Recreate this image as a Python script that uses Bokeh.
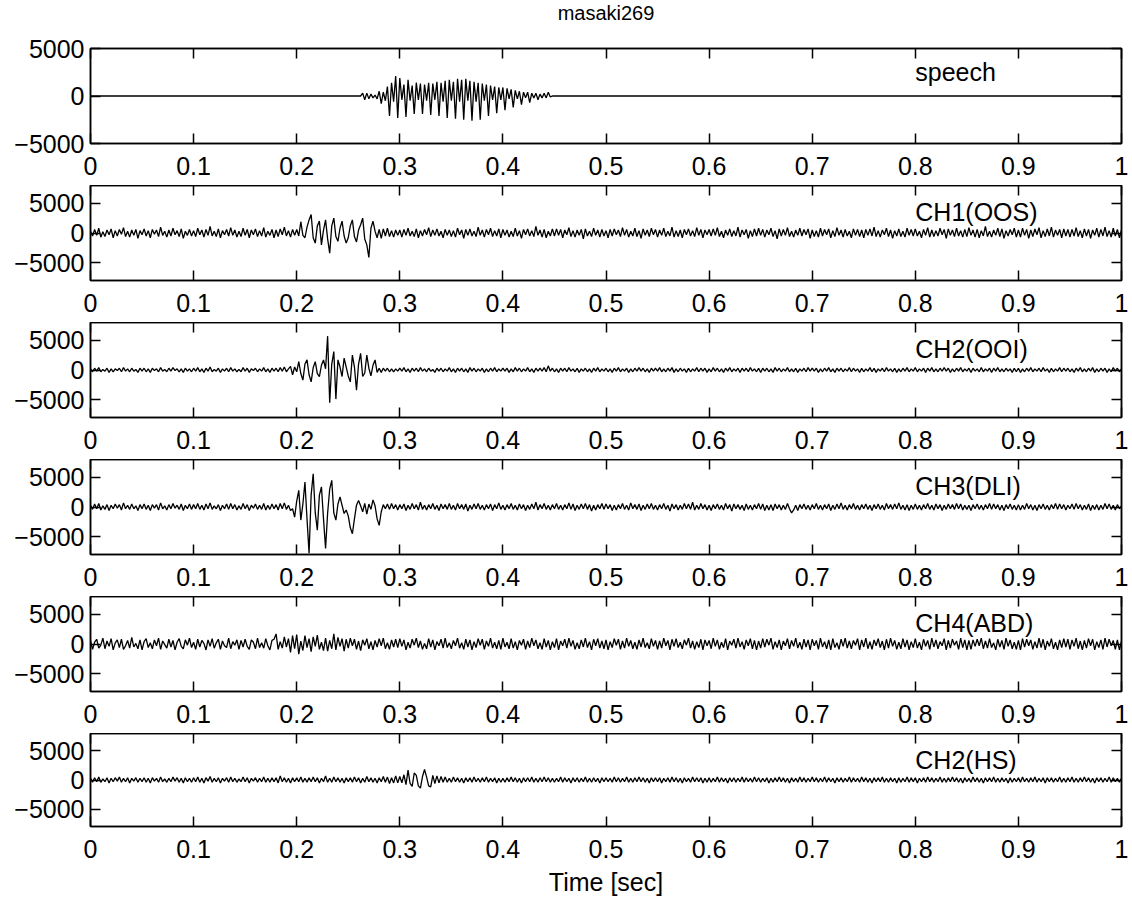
import numpy as np
from bokeh.plotting import figure
from bokeh.layouts import column
from bokeh.models import FixedTicker, LinearAxis, Range1d, Label
from bokeh.embed import file_html
from bokeh.resources import INLINE

TITLE = "masaki269"
X_LABEL = "Time [sec]"
DT = 0.002      # spacing (s) of the values
UNIT = 100      # traced values are written in hundreds

x_ticks = [0, 0.1, 0.2, 0.3, 0.4, 0.5, 0.6, 0.7, 0.8, 0.9, 1]
x_tick_labels = ["0", "0.1", "0.2", "0.3", "0.4", "0.5", "0.6", "0.7", "0.8", "0.9", "1"]
y_ticks = [-5000, 0, 5000]
y_tick_labels = ["\u22125000", "0", "5000"]

channel_names = ["speech", "CH1(OOS)", "CH2(OOI)", "CH3(DLI)", "CH4(ABD)", "CH2(HS)"]
speech_limits = [-5000, 5000]
emg_limits = [-8000, 8000]

speech = [0] * 131 + [
    0, 3, -4, 3, -3, 2, -2, 1, -3, 5, -8, 4, -5, 10, -21, 14, -6, 21, -23, 19,
    -4, 12, -22, 17, -5, 11, -19, 14, -4, 13, -19, 12, -5, 14, -20, 13, -4, 15, -21, 14,
    -6, 16, -23, 17, -5, 15, -24, 18, -6, 17, -25, 18, -5, 16, -26, 15, -6, 14, -25, 13,
    -5, 12, -21, 11, -4, 10, -18, 9, -4, 9, -15, 8, -3, 7, -12, 6, -3, 5, -9, 4,
    -2, 4, -7, 3, -2, 3, -4, 2, -2, 3, -2, 4, -1, 0,
] + [0] * 276

ch1_oos = [
    3, -5, 6, -4, 8, -7, 2, -6, 5, -3, 7, -8, 4, -5, 6, -2, 9, -6, 3, -7, 5, -4, 6, -9, 4,
    -3, 7, -5, 4, -8, 6, -2, 5, -6, 10, -4, 3, -7, 5, -5, 8, -3, 4, -6, 7, -9, 3, -4, 6, -5,
    4, -6, 8, -3, 5, -7, 6, -4, 11, -5, 3, -6, 7, -8, 4, -3, 6, -5, 9, -4, 5, -7, 3, -6, 8,
    -4, 6, -8, 5, -3, 7, -6, 4, -5, 9, -7, 3, -4, 6, -8, 5, -6, 7, -3, 10, -5, 4, -7, 6, -4,
    6, -5, 19, -4, -8, 10, 22, 31, -8, -17, 12, 20, -20, 5, 22, -10, -34, 12, 25, -6, -14, 8, 20, -5, -17,
    -8, 12, 22, -6, -15, 5, 14, 25, -10, -20, -41, 8, 20, 3, -8, 6, -9, 7, -5, 8, -6, 4, -7, 5, -4,
    5, -7, 6, -4, 8, -5, 3, -6, 7, -8, 4, -5, 6, -3, 9, -6, 5, -4, 7, -5, 3, -8, 6, -4, 5,
    -6, 4, -7, 8, -3, 5, -9, 6, -4, 7, -5, 3, -6, 10, -4, 5, -7, 6, -3, 8, -6, 4, -5, 7, -8,
    6, -4, 5, -7, 3, -6, 8, -5, 4, -9, 6, -3, 7, -5, 4, -6, 11, -4, 5, -7, 6, -8, 3, -5, 7,
    -5, 7, -4, 6, -8, 5, -3, 9, -6, 4, -7, 5, -4, 6, -10, 7, -5, 3, -6, 8, -4, 5, -7, 6, -5,
    4, -8, 6, -5, 7, -3, 5, -6, 9, -4, 6, -7, 3, -5, 8, -6, 4, -9, 7, -4, 5, -6, 8, -3, 6,
    -7, 5, -4, 8, -6, 3, -5, 10, -7, 4, -6, 5, -8, 6, -3, 7, -5, 4, -6, 9, -4, 6, -8, 5, -3,
    6, -5, 7, -4, 9, -6, 3, -8, 5, -4, 7, -6, 4, -5, 10, -7, 5, -3, 6, -9, 4, -6, 7, -5, 8,
    -4, 6, -7, 5, -3, 8, -6, 4, -10, 7, -5, 6, -4, 9, -6, 3, -7, 5, -4, 8, -5, 6, -3, 7, -9,
    5, -6, 4, -7, 8, -5, 6, -3, 7, -8, 4, -6, 9, -4, 5, -7, 6, -5, 3, -8, 7, -4, 6, -6, 5,
    -8, 6, -4, 7, -5, 10, -6, 4, -7, 5, -3, 8, -6, 5, -9, 4, -5, 7, -6, 3, -7, 8, -4, 6, -5,
    7, -5, 3, -8, 6, -4, 9, -7, 5, -6, 4, -5, 8, -3, 6, -9, 7, -4, 5, -6, 8, -5, 4, -7, 6,
    -6, 9, -4, 5, -7, 6, -8, 4, -5, 11, -6, 3, -7, 5, -4, 8, -6, 7, -9, 4, -5, 6, -3, 8, -7,
    5, -7, 8, -4, 6, -9, 5, -6, 7, -3, 9, -8, 4, -6, 7, -5, 10, -7, 5, -4, 6, -8, 7, -5, 6,
    -7, 6, -5, 9, -6, 4, -8, 7, -5, 6, -9, 5, -4, 8, -7, 6, -5, 10, -6, 4, -7, 8, -5, 6, -8,
    5,
]

ch2_ooi = [
    2, -3, 3, -2, 4, -3, 1, -2, 3, -4, 2, -3, 2, -1, 3, -3, 4, -2, 2, -3, 3, -2, 1, -4, 3,
    -2, 3, -3, 2, -4, 3, -1, 2, -3, 4, -2, 1, -3, 3, -2, 4, -1, 2, -3, 2, -4, 3, -2, 2, -3,
    3, -2, 4, -3, 2, -4, 3, -2, 5, -3, 1, -2, 3, -4, 2, -2, 3, -3, 4, -2, 2, -3, 1, -3, 4,
    -2, 3, -4, 2, -1, 3, -3, 2, -2, 4, -3, 2, -4, 3, -2, 3, -3, 4, -2, 5, -3, 2, 6, -8, 5,
    -3, 14, -6, -17, 10, 17, -8, -20, 4, 14, -6, -11, 8, 17, 2, 57, -55, 10, 31, -49, 17, 5, -11, 20, 5,
    -10, -20, 25, 5, -34, 10, 28, -11, -5, 25, 3, -10, 8, 17, -4, 3, -4, 3, -2, 3, -3, 2, -3, 2, -2,
    3, -2, 4, -3, 2, -4, 3, -2, 3, -3, 4, -2, 2, -3, 3, -2, 1, -4, 3, -2, 3, -3, 2, -2, 4,
    -3, 2, -4, 3, -2, 3, -3, 2, -4, 4, -2, 3, -3, 2, -2, 3, -4, 2, -3, 3, -2, 4, -3, 2, -2,
    3, -2, 3, -4, 2, -3, 4, -2, 3, -3, 2, -2, 4, -3, 2, -4, 3, -2, 3, -2, 4, -3, 7, -2, 3,
    -3, 2, -4, 3, -2, 3, -3, 4, -2, 2, -3, 3, -4, 2, -2, 3, -3, 2, -4, 3, -2, 4, -3, 2, -2,
    3, -3, 2, -4, 3, -2, 4, -3, 2, -2, 3, -4, 2, -3, 3, -2, 4, -2, 3, -3, 2, -4, 3, -2, 3,
    -2, 4, -3, 2, -3, 3, -2, 4, -4, 2, -3, 3, -2, 2, -4, 3, -3, 2, -2, 4, -3, 3, -2, 3, -4,
    2, -3, 4, -2, 3, -3, 2, -4, 3, -2, 4, -3, 2, -2, 3, -4, 3, -2, 3, -3, 4, -2, 2, -3, 3,
    -4, 3, -2, 3, -3, 2, -4, 4, -2, 3, -3, 2, -2, 4, -3, 2, -3, 3, -4, 2, -2, 3, -3, 4, -2,
    3, -2, 3, -4, 2, -3, 3, -2, 4, -3, 2, -4, 3, -2, 3, -3, 2, -2, 4, -3, 3, -2, 2, -4, 3,
    -3, 2, -2, 4, -3, 3, -4, 2, -2, 3, -3, 4, -2, 2, -3, 3, -4, 2, -3, 3, -2, 4, -3, 2, -2,
    4, -3, 2, -2, 3, -4, 3, -2, 4, -3, 2, -3, 3, -2, 4, -2, 3, -4, 2, -3, 3, -2, 4, -3, 2,
    -2, 3, -4, 3, -2, 2, -3, 4, -3, 2, -2, 3, -4, 3, -2, 4, -3, 2, -3, 3, -2, 2, -4, 3, -3,
    3, -4, 2, -3, 3, -2, 4, -3, 2, -2, 3, -3, 4, -2, 2, -4, 3, -3, 2, -2, 4, -3, 3, -2, 3,
    -3, 2, -4, 3, -2, 4, -3, 2, -3, 3, -2, 4, -4, 2, -3, 3, -2, 3, -4, 2, -3, 4, -2, 3, -3,
    2,
]

ch3_dli = [
    3, -4, 5, -3, 6, -5, 2, -4, 4, -6, 3, -3, 5, -2, 4, -5, 7, -3, 3, -4, 5, -3, 2, -6, 4,
    -3, 5, -4, 3, -6, 4, -2, 4, -5, 7, -3, 2, -5, 4, -3, 6, -2, 3, -4, 5, -6, 3, -3, 5, -4,
    4, -3, 6, -4, 3, -5, 5, -3, 7, -4, 2, -3, 4, -6, 3, -3, 5, -4, 6, -3, 4, -5, 2, -4, 6,
    -3, 4, -6, 3, -2, 5, -4, 3, -4, 6, -5, 3, -4, 5, -3, 4, -5, 6, -3, 7, -4, 3, -6, -3, -17,
    10, 28, -22, 5, 42, -20, -78, 20, 56, -10, -39, 20, 34, -20, -70, -10, 30, 45, -10, -22, 5, 17, 3, -11, -5,
    -15, -35, -45, -20, 3, 11, 2, -8, 6, -12, 5, -4, 12, 2, -20, -31, -8, 4, -3, 5, -4, 6, -3, 4, -5,
    4, -3, 5, -6, 3, -4, 6, -3, 4, -5, 8, -4, 3, -5, 4, -3, 6, -4, 3, -6, 5, -3, 4, -4, 6,
    -4, 3, -5, 6, -3, 4, -4, 5, -7, 3, -4, 5, -3, 6, -4, 3, -5, 4, -3, 5, -6, 4, -3, 7, -4,
    3, -5, 4, -3, 6, -4, 3, -5, 5, -3, 4, -6, 3, -4, 5, -3, 8, -5, 4, -3, 6, -4, 3, -5, 4,
    -3, 6, -4, 3, -5, 4, -3, 7, -4, 5, -6, 3, -4, 5, -3, 6, -4, 4, -7, 3, -5, 4, -3, 6, -4,
    5, -3, 4, -6, 3, -5, 4, -3, 6, -4, 3, -5, 7, -3, 4, -4, 5, -6, 3, -4, 5, -3, 6, -4, 3,
    -5, 4, -3, 6, -4, 3, -7, 5, -3, 4, -5, 3, -4, 6, -3, 5, -4, 8, -5, 3, -4, 6, -3, 4, -5,
    3, -6, 4, -3, 5, -4, 3, -5, 6, -3, 4, -7, 5, -3, 4, -4, 3, -6, 5, -4, 3, -5, 4, -3, 6,
    -4, 5, -6, 3, -5, 4, -6, 5, -3, 4, -5, 3, -4, 6, -3, -10, -5, 3, -6, 4, -3, 5, -4, 3, -5,
    4, -3, 6, -4, 3, -5, 4, -3, 5, -6, 3, -4, 5, -3, 7, -4, 3, -5, 4, -3, 6, -4, 3, -5, 4,
    -3, 5, -4, 3, -6, 4, -3, 5, -4, 3, -5, 6, -3, 4, -4, 5, -3, 7, -4, 3, -5, 4, -6, 3, -4,
    5, -4, 3, -5, 4, -3, 6, -4, 3, -5, 5, -3, 4, -6, 3, -4, 5, -3, 4, -4, 6, -3, 5, -5, 3,
    -4, 3, -6, 4, -3, 5, -4, 3, -5, 4, -3, 6, -4, 5, -3, 4, -5, 3, -6, 4, -3, 5, -4, 3, -5,
    4, -5, 3, -4, 6, -3, 4, -5, 3, -6, 4, -3, 5, -4, 3, -5, 4, -3, 6, -4, 5, -3, 4, -5, 3,
    -3, 5, -4, 6, -3, 4, -5, 3, -4, 5, -6, 3, -4, 4, -5, 3, -4, 6, -3, 5, -4, 3, -5, 4, -3,
    2,
]

ch4_abd = [
    6, -9, 3, 8, -7, -2, 10, -8, 5, -4, 9, -10, 2, 7, -6, 8, -9, -3, 6, -7, 11, -5, 1, -8, 7,
    -10, 4, 9, -6, 2, -8, 7, -3, 10, -9, 5, -1, -7, 8, -5, 6, -10, 3, 9, -4, -8, 7, -2, 10, -6,
    3, -9, 8, -5, 6, 1, -10, 7, -4, 9, -7, 2, 8, -9, 5, -3, -6, 10, -8, 4, -2, 7, -9, 6, -5,
    8, -4, -9, 7, 3, -8, 10, -6, 2, -7, 9, -3, -10, 6, 8, 17, -9, 4, -7, 12, -5, 9, -14, 14, -8,
    16, -17, 5, -11, 14, -6, 9, -13, 12, -4, 15, -9, 3, -11, 10, -12, 6, -8, 17, -10, 11, -4, 9, -12, 8,
    -7, 10, -3, 8, -9, 5, -11, 7, -2, 9, -8, 4, -10, 6, -5, 9, -3, 10, -8, 2, -9, 7, -5, 8, -6,
    9, -4, 7, -10, 3, -7, 8, -2, 10, -6, 5, -9, 1, -8, 9, -5, 7, -10, 4, -3, 8, -7, 10, -6, 2,
    -8, 6, -3, 10, -7, 2, -9, 8, -5, 7, -10, 4, -6, 9, -2, 8, -9, 5, -4, 10, -7, 3, -8, 6, -9,
    10, -5, 3, -8, 9, -7, 4, -10, 6, -2, 8, -9, 5, -6, 10, -3, 7, -8, 2, -9, 9, -5, 6, -10, 4,
    -6, 9, -10, 5, -3, 8, -7, 10, -4, 6, -9, 2, -8, 7, -5, 10, -6, 4, -10, 8, -3, 9, -7, 5, -8,
    7, -10, 4, -6, 9, -2, 8, -9, 5, -7, 10, -4, 6, -8, 3, -9, 7, -5, 10, -6, 2, -8, 9, -4, 6,
    -9, 5, -7, 10, -3, 6, -10, 8, -4, 9, -6, 3, -8, 7, -2, 10, -7, 5, -9, 4, -6, 8, -10, 7, -3,
    6, -8, 10, -4, 7, -9, 3, -6, 9, -10, 5, -2, 8, -7, 10, -5, 4, -9, 7, -3, 9, -8, 6, -10, 5,
    -7, 9, -5, 8, -2, 10, -9, 4, -6, 7, -10, 5, -3, 9, -8, 6, -4, 10, -7, 3, -9, 8, -5, 7, -10,
    8, -3, 6, -9, 10, -5, 4, -8, 7, -10, 9, -6, 2, -9, 8, -4, 10, -7, 5, -8, 6, -2, 9, -10, 7,
    -5, 10, -8, 4, -9, 7, -3, 9, -6, 5, -10, 8, -7, 10, -4, 6, -9, 3, -8, 9, -5, 7, -10, 4, -6,
    9, -7, 3, -10, 8, -4, 6, -9, 10, -5, 7, -8, 4, -3, 9, -10, 6, -7, 8, -2, 5, -9, 10, -6, 7,
    -10, 6, -9, 7, -4, 8, -3, 10, -8, 5, -7, 9, -6, 2, -10, 8, -5, 6, -9, 10, -4, 7, -8, 3, -9,
    6, -10, 9, -5, 8, -3, 7, -9, 4, -7, 10, -6, 8, -10, 5, -4, 9, -8, 3, -10, 7, -6, 9, -5, 8,
    -9, 7, -4, 10, -8, 5, -10, 6, -7, 9, -3, 8, -10, 4, -6, 7, -9, 10, -5, 8, -3, 6, -9, 7, -10,
    5,
]

ch2_hs = [
    3, -4, 4, -3, 5, -4, 2, -3, 4, -5, 3, -3, 4, -2, 5, -4, 3, -3, 4, -5, 3, -2, 4, -4, 3,
    -3, 4, -4, 3, -5, 4, -2, 3, -4, 5, -3, 2, -4, 3, -3, 5, -2, 4, -4, 3, -5, 4, -3, 3, -4,
    4, -3, 5, -4, 3, -5, 4, -2, 6, -4, 3, -3, 4, -5, 3, -2, 4, -4, 5, -3, 3, -4, 2, -3, 5,
    -3, 4, -5, 3, -2, 4, -4, 3, -3, 5, -4, 3, -4, 4, -3, 4, -5, 7, -3, 4, -4, 3, -5, 4, -3,
    4, -3, 5, -4, 3, -4, 4, -3, 5, -3, 4, -5, 3, -3, 7, -4, 3, -4, 5, -3, 4, -4, 3, -5, 4,
    -3, 4, -4, 5, -3, 4, -5, 3, -4, 6, -3, 4, -4, 3, -5, 4, -3, 6, -4, 5, -6, 4, -5, 7, -5,
    6, -5, 9, -8, 17, -6, -11, 12, 8, -10, -14, 6, 18, 5, -10, -12, 8, -6, 7, -5, 6, -4, 5, -4, 3,
    -4, 5, -3, 4, -4, 3, -5, 4, -3, 4, -4, 5, -3, 3, -4, 4, -3, 5, -4, 3, -3, 4, -5, 3, -4,
    3, -4, 4, -3, 5, -3, 4, -4, 3, -5, 4, -3, 4, -3, 5, -4, 3, -4, 4, -3, 5, -3, 4, -4, 3,
    -4, 3, -3, 5, -4, 4, -3, 3, -5, 4, -3, 4, -4, 3, -3, 5, -4, 3, -4, 4, -3, 3, -5, 4, -3,
    4, -3, 3, -4, 5, -3, 4, -4, 3, -3, 5, -4, 3, -4, 4, -3, 5, -3, 4, -4, 3, -5, 4, -3, 4,
    -3, 4, -5, 3, -3, 4, -4, 5, -3, 4, -4, 3, -5, 4, -3, 3, -4, 5, -3, 4, -3, 4, -5, 3, -4,
    4, -4, 3, -3, 5, -4, 4, -3, 3, -5, 4, -3, 4, -4, 3, -3, 5, -4, 4, -3, 3, -4, 5, -3, 4,
    -4, 3, -3, 4, -5, 3, -4, 4, -3, 5, -3, 4, -4, 3, -5, 4, -3, 3, -4, 5, -3, 4, -4, 3, -3,
    5, -3, 4, -4, 3, -3, 5, -4, 4, -3, 3, -5, 4, -3, 4, -4, 3, -3, 5, -4, 4, -3, 3, -4, 5,
    -3, 4, -4, 3, -5, 4, -3, 4, -3, 5, -4, 3, -4, 4, -3, 3, -5, 4, -4, 3, -3, 5, -4, 4, -3,
    4, -5, 3, -3, 4, -4, 5, -3, 4, -4, 3, -3, 5, -4, 3, -4, 4, -3, 5, -3, 4, -4, 3, -5, 4,
    -3, 3, -4, 5, -3, 4, -4, 3, -5, 4, -3, 4, -3, 5, -4, 3, -4, 4, -3, 3, -5, 4, -4, 3, -3,
    4, -4, 5, -3, 3, -4, 4, -3, 5, -4, 3, -3, 4, -5, 4, -3, 4, -4, 3, -3, 5, -4, 3, -4, 4,
    -3, 5, -4, 3, -4, 4, -3, 5, -3, 4, -4, 3, -5, 4, -3, 4, -4, 3, -3, 5, -4, 4, -3, 3, -4,
    3,
]

series = [speech, ch1_oos, ch2_ooi, ch3_dli, ch4_abd, ch2_hs]
limits = [speech_limits, emg_limits, emg_limits, emg_limits, emg_limits, emg_limits]

# layout (pixels)
FONT = "Liberation Sans"
FRAME_H = 95
PAGE_W = 1132
LEFT = 90
RIGHT = 11
TITLE_H = 30          # strip above the first panel that carries the title
TITLE_CENTRE = 12     # title centre, px from the top of the page
FIRST_TOP = 18        # space above the first frame (room for its top tick label)
label_heights = [2560, 3500, 3500, 3500, 3500, 3500]


def tick_only_axis(ticks):
    return LinearAxis(ticker=FixedTicker(ticks=ticks), major_label_text_font_size="0px",
                      major_label_text_color=None, major_label_standoff=0,
                      major_tick_in=10, major_tick_out=0, minor_tick_line_color=None,
                      axis_line_width=1.5, major_tick_line_width=1.5)


# title strip (its frame spans exactly the title band, in pixel units)
head = figure(width=PAGE_W, height=TITLE_H, x_range=Range1d(0, 1), y_range=Range1d(0, TITLE_H),
              output_backend="svg", toolbar_location=None,
              x_axis_location=None, y_axis_location=None,
              min_border_left=LEFT, min_border_right=RIGHT, min_border_top=0, min_border_bottom=0,
              background_fill_color="white", border_fill_color="white", outline_line_color=None)
head.xgrid.visible = False
head.ygrid.visible = False
head.add_layout(Label(x=0.5, y=TITLE_H - TITLE_CENTRE, text=TITLE, text_font=FONT,
                      text_font_size="20px", text_color="black",
                      text_align="center", text_baseline="middle"))

figs = [head]
n = len(series)
for k in range(n):
    first = k == 0
    last = k == n - 1
    top = FIRST_TOP if first else 0
    bottom = 70 if last else 42
    lo, hi = limits[k]
    p = figure(width=PAGE_W, height=top + FRAME_H + bottom,
               x_range=Range1d(0, 1), y_range=Range1d(lo, hi),
               output_backend="svg", toolbar_location=None,
               min_border_left=LEFT, min_border_right=RIGHT,
               min_border_top=top, min_border_bottom=bottom,
               background_fill_color="white", border_fill_color="white")
    p.xgrid.visible = False
    p.ygrid.visible = False
    p.outline_line_color = "black"
    p.outline_line_width = 1.5

    vals = np.array(series[k], dtype=float) * UNIT
    t = np.arange(len(vals)) * DT
    p.line(t, vals, line_color="black", line_width=1.3)

    p.add_layout(Label(x=0.8, y=label_heights[k], text=channel_names[k],
                       text_font=FONT, text_font_size="25px", text_color="black",
                       text_align="left", text_baseline="alphabetic"))

    xa = p.xaxis[0]
    xa.ticker = FixedTicker(ticks=x_ticks)
    xa.major_label_overrides = dict(zip(x_ticks, x_tick_labels))
    xa.major_label_standoff = 13
    ya = p.yaxis[0]
    ya.ticker = FixedTicker(ticks=y_ticks)
    ya.major_label_overrides = dict(zip(y_ticks, y_tick_labels))
    ya.major_label_standoff = 6
    for ax in (xa, ya):
        ax.major_tick_in = 10
        ax.major_tick_out = 0
        ax.minor_tick_line_color = None
        ax.axis_line_width = 1.5
        ax.major_tick_line_width = 1.5
        ax.major_label_text_font = FONT
        ax.major_label_text_font_size = "25px"
        ax.major_label_text_color = "black"

    p.add_layout(tick_only_axis(x_ticks), "above")
    p.add_layout(tick_only_axis(y_ticks), "right")

    if last:
        xa.axis_label = X_LABEL
        xa.axis_label_text_font = FONT
        xa.axis_label_text_font_size = "25px"
        xa.axis_label_text_font_style = "normal"
        xa.axis_label_text_color = "black"
        xa.axis_label_standoff = 7
    figs.append(p)

layout = column(*figs, spacing=0)
open("out.html", "w").write(file_html(layout, INLINE))
